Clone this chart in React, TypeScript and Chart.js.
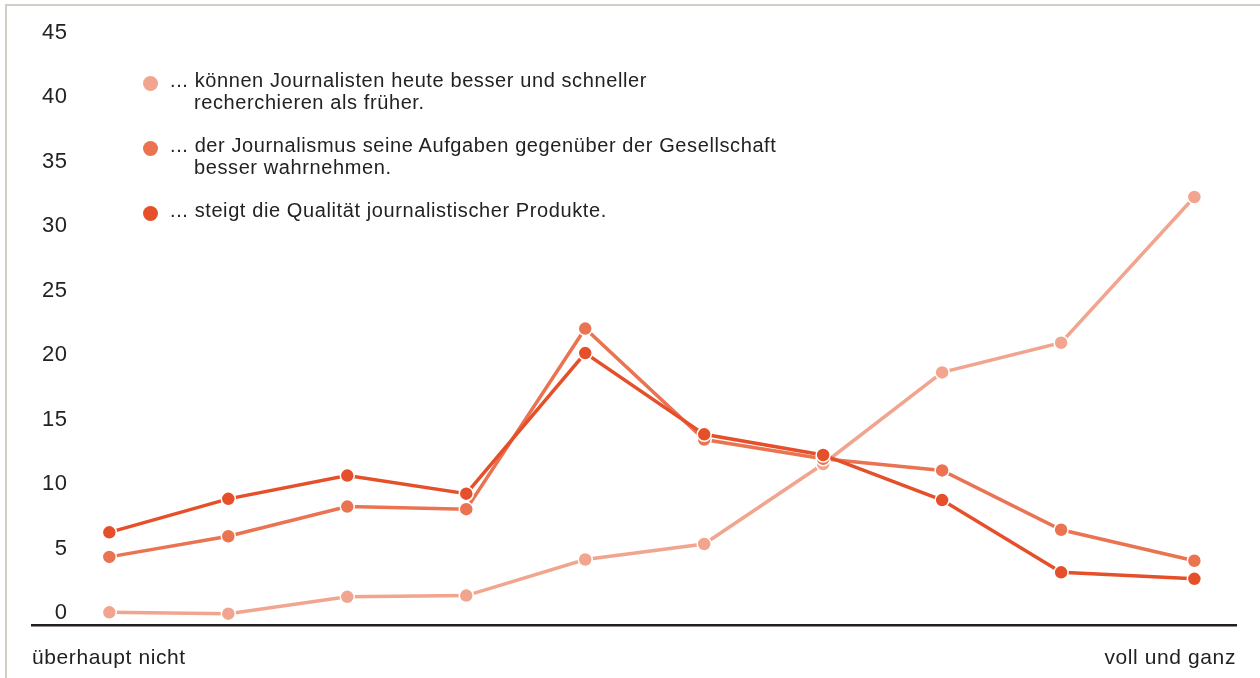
import React, { useEffect, useRef } from 'react';
import { Chart, registerables } from 'chart.js';

Chart.register(...registerables);

// ---------- data ----------
const xValues = [1, 2, 3, 4, 5, 6, 7, 8, 9, 10.12];
const axisEndLabels = ['überhaupt nicht', 'voll und ganz'];
const yTickValues = [0, 5, 10, 15, 20, 25, 30, 35, 40, 45];

const seriesNames = [
  ['... können Journalisten heute besser und schneller', 'recherchieren als früher.'],
  ['... der Journalismus seine Aufgaben gegenüber der Gesellschaft', 'besser wahrnehmen.'],
  ['... steigt die Qualität journalistischer Produkte.'],
];

const recherche = [0.5, 0.4, 1.7, 1.8, 4.6, 5.8, 12.0, 19.1, 21.4, 32.7];
const aufgaben = [4.8, 6.4, 8.7, 8.5, 22.5, 13.9, 12.4, 11.5, 6.9, 4.5];
const qualitaet = [6.7, 9.3, 11.1, 9.7, 20.6, 14.3, 12.7, 9.2, 3.6, 3.1];

const seriesValues = [recherche, aufgaben, qualitaet];
const seriesColors = ['#f2a58e', '#ea7352', '#e5502a'];

// ---------- style ----------
const FONT = "'Liberation Sans', Arial, Helvetica, sans-serif";
const TEXT = '#222222';

const yLabelPlugin = {
  id: 'yLabelPlugin',
  beforeDraw(chart: any) {
    chart.ctx.letterSpacing = '0.6px';
  },
  afterDraw(chart: any) {
    const ctx = chart.ctx;
    const y = chart.scales.y;
    ctx.save();
    ctx.font = `22px ${FONT}`;
    ctx.fillStyle = TEXT;
    ctx.textAlign = 'right';
    ctx.textBaseline = 'middle';
    ctx.letterSpacing = '0.5px';
    yTickValues.forEach((v) => {
      ctx.fillText(String(v), 67.5, y.getPixelForValue(v) - 5.5);
    });
    ctx.restore();
  },
};

function ChartCanvas() {
  const ref = useRef<HTMLCanvasElement | null>(null);
  useEffect(() => {
    if (!ref.current) return;
    const datasets = seriesValues.map((vals, i) => ({
      label: seriesNames[i].join(' '),
      data: vals.map((v, j) => ({ x: xValues[j], y: v })),
      borderColor: seriesColors[i],
      backgroundColor: seriesColors[i],
      pointBackgroundColor: seriesColors[i],
      pointBorderColor: '#ffffff',
      pointBorderWidth: 1.5,
      pointRadius: 7,
      borderWidth: 3.5,
      tension: 0,
      order: 2 - i,
      clip: false as any,
    }));
    const chart = new Chart(ref.current, {
      type: 'line',
      data: { datasets },
      plugins: [yLabelPlugin],
      options: {
        animation: false,
        responsive: false,
        maintainAspectRatio: false,
        layout: { padding: { left: 32, right: 24, top: 38.3, bottom: 0 } },
        plugins: { legend: { display: false }, tooltip: { enabled: false } },
        scales: {
          x: {
            type: 'linear',
            min: 0.35,
            max: 10.47,
            grid: { display: false },
            border: { display: true, color: '#231f20', width: 2.5 },
            afterBuildTicks: (scale: any) => {
              scale.ticks = [{ value: scale.min }, { value: scale.max }];
            },
            afterFit: (scale: any) => {
              scale.height = 52.3;
            },
            ticks: {
              autoSkip: false,
              maxRotation: 0,
              align: 'inner',
              padding: 12,
              color: TEXT,
              font: { family: FONT, size: 21 },
              callback: (_v: any, i: number) => axisEndLabels[i],
            },
          },
          y: {
            display: false,
            min: -0.535,
            max: 45,
          },
        },
      } as any,
    });
    return () => chart.destroy();
  }, []);
  return (
    <canvas
      ref={ref}
      width={1260}
      height={678}
      style={{ position: 'absolute', left: 0, top: 0, width: 1260, height: 678 }}
    />
  );
}

function Legend() {
  return (
    <>
      {seriesNames.map((lines, i) => {
        const top = 70 + i * 65;
        return (
          <div key={i}>
            <span
              style={{
                position: 'absolute',
                left: 142.5,
                top: top + 13.3 - 7.5,
                width: 15,
                height: 15,
                borderRadius: '50%',
                background: seriesColors[i],
              }}
            />
            <div
              style={{
                position: 'absolute',
                left: 170,
                top,
                fontFamily: FONT,
                fontSize: 20,
                lineHeight: '21.6px',
                letterSpacing: '0.6px',
                color: TEXT,
                whiteSpace: 'nowrap',
              }}
            >
              {lines.map((ln, k) => (
                <div key={k} style={{ paddingLeft: k === 0 ? 0 : 24 }}>
                  {ln}
                </div>
              ))}
            </div>
          </div>
        );
      })}
    </>
  );
}

export default function App() {
  return (
    <div style={{ position: 'absolute', left: 0, top: 0, width: 1260, height: 678, overflow: 'hidden', background: '#ffffff' }}>
      <div
        style={{
          position: 'absolute',
          left: 5,
          top: 4,
          width: 1400,
          height: 800,
          borderTop: '2.5px solid #d3cdc5',
          borderLeft: '2.5px solid #d3cdc5',
        }}
      />
      <ChartCanvas />
      <Legend />
    </div>
  );
}
